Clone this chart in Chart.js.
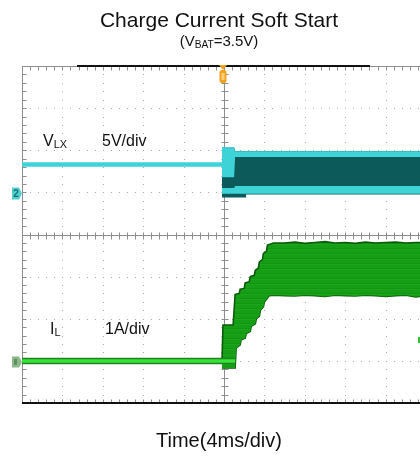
<!DOCTYPE html>
<html>
<head>
<meta charset="utf-8">
<script src="https://cdn.jsdelivr.net/npm/chart.js@4/dist/chart.umd.min.js"></script>
<style>
  html, body { margin: 0; padding: 0; background: #fff; overflow: hidden; width: 420px; height: 456px; }
  #wrap { position: relative; width: 420px; height: 456px; overflow: hidden; }
  #scope { position: absolute; left: 0; top: 0; }
  .t { position: absolute; font-family: "Liberation Sans", Arial, sans-serif; line-height: 1; color: #111; white-space: nowrap; }
  .sub { font-size: 0.68em; position: relative; top: 0.22em; }
</style>
</head>
<body>
<div id="wrap">
  <canvas id="scope" width="440" height="456"></canvas>
  <div class="t" style="left:0;width:438px;text-align:center;top:9px;font-size:21px">Charge Current Soft Start</div>
  <div class="t" style="left:0;width:438px;text-align:center;top:33px;font-size:15px">(V<span class="sub">BAT</span>=3.5V)</div>
  <div class="t" style="left:43px;top:133px;font-size:16px">V<span class="sub">LX</span></div>
  <div class="t" style="left:102px;top:133px;font-size:16px">5V/div</div>
  <div class="t" style="left:50px;top:321px;font-size:16px">I<span class="sub">L</span></div>
  <div class="t" style="left:105px;top:321px;font-size:16px">1A/div</div>
  <div class="t" style="left:0;width:438px;text-align:center;top:430px;font-size:20px">Time(4ms/div)</div>
</div>
<script>
// Time base: 4 ms per division, trigger at t = 0 (ms)
const timeDivs = [-20, -16, -12, -8, -4, 0, 4, 8, 12, 16, 20];

// Channel 2: switch node V_LX (5 V/div)
const vlxIdleT = [-20, -0.2];
const vlxIdleV = [3.3, 3.3];
const vlxSwT   = [-0.2, 1.0, 1.1, 20];
const vlxSwHi  = [5.3, 5.3, 4.85, 4.85];
const vlxSwLo  = [-0.15, -0.15, -0.15, -0.15];
const vlxCoreT  = [-0.2, 1.0, 1.1, 20];
const vlxCoreHi = [1.8, 1.8, 4.2, 4.2];
const vlxCoreLo = [0.52, 0.52, 0.76, 0.76];
const vlxEdgeT  = [-0.2, 2.2];
const vlxEdgeHi = [-0.15, -0.15];
const vlxEdgeLo = [-0.55, -0.55];

// Channel 1: inductor current I_L (1 A/div)
const ilIdleT = [-20, 1.1];
const ilIdleA = [0, 0];
const ilHiT = [-0.2, -0.1, 0.9, 1.1, 1.5, 1.6, 2.0, 2.1, 2.5, 2.6, 3.0, 3.1, 3.4, 3.5, 3.8, 3.9, 4.2, 4.3, 4.9,
               6, 7, 8, 9, 10, 11, 12, 13, 14, 15, 16, 17, 18, 19, 20];
const ilHiA = [0, 0.85, 0.85, 1.58, 1.60, 1.70, 1.72, 1.85, 1.88, 2.0, 2.03, 2.15, 2.2, 2.35, 2.4, 2.55, 2.6, 2.75, 2.80,
               2.80, 2.82, 2.79, 2.81, 2.83, 2.80, 2.81, 2.79, 2.82, 2.80, 2.81, 2.82, 2.80, 2.81, 2.81];
const ilLoT = [-0.2, 1.1, 1.2, 1.6, 1.7, 2.1, 2.2, 2.6, 2.7, 3.1, 3.2, 3.5, 3.6, 3.9, 4.0, 4.3, 4.5, 5.0,
               6, 7, 8, 9, 10, 11, 12, 13, 14, 15, 16, 17, 18, 19, 20];
const ilLoA = [-0.17, -0.17, 0.3, 0.38, 0.5, 0.54, 0.65, 0.7, 0.82, 0.88, 1.0, 1.06, 1.2, 1.28, 1.4, 1.49, 1.55, 1.56,
               1.55, 1.54, 1.56, 1.55, 1.53, 1.56, 1.55, 1.54, 1.56, 1.55, 1.53, 1.55, 1.56, 1.52, 1.55];

const pts = (t, v) => t.map((x, i) => ({ x, y: v[i] }));

const CYAN = '#3dd3d7', TEAL = '#0c5b5a';
const GREEN_DK = '#0a5c0a', GREEN_LT = '#35e535';

// faint horizontal banding of the persisted current trace
function stripeFill() {
  const c = document.createElement('canvas');
  c.width = 4; c.height = 5;
  const g = c.getContext('2d');
  g.fillStyle = '#169e16'; g.fillRect(0, 0, 4, 5);
  g.fillStyle = '#139513'; g.fillRect(0, 3, 4, 1);
  g.fillStyle = '#1ba61b'; g.fillRect(0, 4, 4, 1);
  return document.getElementById('scope').getContext('2d').createPattern(c, 'repeat');
}

function line(data, axis, color, width, extra) {
  return Object.assign({
    data, yAxisID: axis, xAxisID: 'x',
    borderColor: color, borderWidth: width,
    pointRadius: 0, tension: 0, fill: false
  }, extra || {});
}

const datasets = [
  // I_L before start-up (drawn on top)
  line(pts(ilIdleT, ilIdleA), 'yI', GREEN_LT, 3.5),
  line(pts(ilIdleT, ilIdleA), 'yI', '#247f24', 6.5),
  // I_L ripple envelope
  line(pts(ilHiT, ilHiA), 'yI', GREEN_DK, 1.6, { fill: { target: 3 }, backgroundColor: stripeFill() }),
  line(pts(ilLoT, ilLoA), 'yI', GREEN_DK, 1.6),
  // V_LX before start-up
  line(pts(vlxIdleT, vlxIdleV), 'yV', CYAN, 4.5),
  // V_LX switching: dark core inside the cyan band
  line(pts(vlxCoreT, vlxCoreHi), 'yV', 'rgba(0,0,0,0)', 0, { fill: { target: 6 }, backgroundColor: TEAL }),
  line(pts(vlxCoreT, vlxCoreLo), 'yV', 'rgba(0,0,0,0)', 0),
  line(pts(vlxSwT, vlxSwHi), 'yV', '#2fbfc3', 1, { fill: { target: 8 }, backgroundColor: CYAN }),
  line(pts(vlxSwT, vlxSwLo), 'yV', TEAL, 1.5),
  line(pts(vlxEdgeT, vlxEdgeHi), 'yV', TEAL, 1, { fill: { target: 10 }, backgroundColor: TEAL }),
  line(pts(vlxEdgeT, vlxEdgeLo), 'yV', TEAL, 1)
];

const crisp = v => Math.round(v) + 0.5;

const scopeGrid = {
  id: 'scopeGrid',
  beforeDatasetsDraw(chart) {
    const ctx = chart.ctx, xs = chart.scales.x, yi = chart.scales.yI;
    const { left, right, top, bottom } = chart.chartArea;
    const xMinor = [], yMinor = [];
    for (let t = -20; t <= 20.001; t += 0.8) xMinor.push(xs.getPixelForValue(t));
    for (let a = -1; a <= 7.001; a += 0.2) yMinor.push(yi.getPixelForValue(a));
    ctx.save();
    // dotted division lines
    ctx.fillStyle = '#a8a8a8';
    timeDivs.forEach(t => {
      if (t === -20 || t === 0 || t === 20) return;
      const x = Math.round(xs.getPixelForValue(t));
      yMinor.forEach(y => ctx.fillRect(x, Math.round(y), 1, 1));
    });
    [0, 1, 2, 4, 5, 6].forEach(a => {
      const y = Math.round(yi.getPixelForValue(a));
      xMinor.forEach(x => ctx.fillRect(Math.round(x), y, 1, 1));
    });
    // centre axes with minor ticks
    ctx.strokeStyle = '#8e8e8e';
    ctx.lineWidth = 1;
    const cx = crisp(xs.getPixelForValue(0)), cy = crisp(yi.getPixelForValue(3));
    ctx.beginPath();
    ctx.moveTo(cx, top); ctx.lineTo(cx, bottom);
    ctx.moveTo(left, cy); ctx.lineTo(right, cy);
    yMinor.forEach(y => { ctx.moveTo(cx - 3, crisp(y)); ctx.lineTo(cx + 4, crisp(y)); });
    xMinor.forEach(x => { ctx.moveTo(crisp(x), cy - 3); ctx.lineTo(crisp(x), cy + 4); });
    // frame with inward ticks
    const lx = crisp(left), ty = crisp(top), by = crisp(bottom);
    ctx.moveTo(lx, top); ctx.lineTo(lx, bottom);
    ctx.moveTo(left, ty); ctx.lineTo(right, ty);
    yMinor.forEach(y => { ctx.moveTo(lx, crisp(y)); ctx.lineTo(lx + 4, crisp(y)); });
    xMinor.forEach(x => {
      ctx.moveTo(crisp(x), ty); ctx.lineTo(crisp(x), ty + 4);
      ctx.moveTo(crisp(x), by); ctx.lineTo(crisp(x), by - 4);
    });
    ctx.stroke();
    ctx.restore();
  },
  afterDatasetsDraw(chart) {
    const ctx = chart.ctx, xs = chart.scales.x, yi = chart.scales.yI, yv = chart.scales.yV;
    const { left, right, top, bottom } = chart.chartArea;
    ctx.save();
    // record bar on the top edge and heavy bottom edge
    ctx.fillStyle = '#111';
    ctx.fillRect(77, Math.round(top) - 1, 293, 2);
    ctx.fillRect(left, Math.round(bottom) - 1, right - left, 2);
    // trigger position marker
    const tx = Math.round(xs.getPixelForValue(0)) - 1;
    ctx.fillStyle = '#f2a21e';
    ctx.beginPath();
    ctx.moveTo(tx - 4, top - 1); ctx.lineTo(tx + 4, top - 1); ctx.lineTo(tx, top + 4);
    ctx.closePath(); ctx.fill();
    ctx.beginPath();
    ctx.roundRect(tx - 3.5, top + 4, 7, 13, 2.5);
    ctx.fill();
    ctx.fillStyle = '#f9cf7a';
    ctx.fillRect(tx - 1.5, top + 7, 3, 7);
    // channel 2 ground marker
    const g2 = yv.getPixelForValue(0) + 1;
    ctx.fillStyle = '#4fcfcf';
    ctx.beginPath();
    ctx.moveTo(12, g2 - 6); ctx.lineTo(19, g2 - 6); ctx.lineTo(22, g2);
    ctx.lineTo(19, g2 + 6); ctx.lineTo(12, g2 + 6); ctx.closePath(); ctx.fill();
    ctx.fillStyle = '#1c6f6f';
    ctx.font = 'bold 10px "Liberation Sans", Arial, sans-serif';
    ctx.textAlign = 'center'; ctx.textBaseline = 'middle';
    ctx.fillText('2', 16, g2 + 0.5);
    // channel 1 ground marker
    const g1 = yi.getPixelForValue(0) + 1;
    ctx.fillStyle = '#8cb88c';
    ctx.beginPath();
    ctx.moveTo(12, g1 - 5.5); ctx.lineTo(19, g1 - 5.5); ctx.lineTo(22, g1);
    ctx.lineTo(19, g1 + 5.5); ctx.lineTo(12, g1 + 5.5); ctx.closePath(); ctx.fill();
    ctx.fillStyle = '#5f8f5f';
    ctx.fillRect(14, g1 - 3, 3, 6);
    // trigger level marker at right edge
    const tl = yi.getPixelForValue(0.5);
    ctx.fillStyle = '#2fbf2f';
    ctx.fillRect(418, Math.round(tl) - 3, 2, 6);
    ctx.restore();
  }
};

new Chart(document.getElementById('scope'), {
  type: 'line',
  data: { datasets },
  options: {
    responsive: false,
    animation: false,
    events: [],
    layout: { padding: { left: 22, top: 66, right: 14, bottom: 53 } },
    plugins: { legend: { display: false }, tooltip: { enabled: false }, title: { display: false } },
    scales: {
      x:  { type: 'linear', min: -20, max: 20, display: false },
      yV: { type: 'linear', min: -25, max: 15, display: false },
      yI: { type: 'linear', min: -1, max: 7, display: false }
    }
  },
  plugins: [scopeGrid]
});
</script>
</body>
</html>
